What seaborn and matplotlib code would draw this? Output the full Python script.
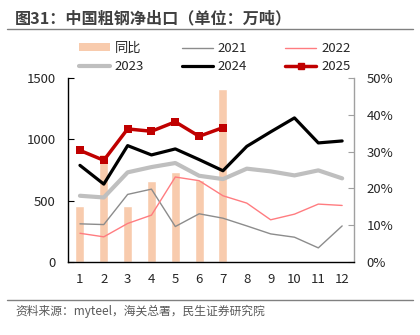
import matplotlib
matplotlib.use("Agg")
import matplotlib.pyplot as plt
import seaborn as sns
import pandas as pd
import numpy as np
from matplotlib.lines import Line2D
from matplotlib.patches import Patch

sns.set_style("white")
plt.rcParams['font.family'] = ['Noto Sans CJK SC', 'DejaVu Sans']

months = list(range(1, 13))
month_labels = [str(m) for m in months]
y2021 = [311, 305, 551, 594, 289, 393, 357, 294, 229, 202, 115, 294]
y2022 = [234, 205, 314, 382, 693, 663, 540, 480, 344, 390, 472, 461]
y2023 = [540, 526, 731, 774, 807, 703, 676, 761, 739, 706, 747, 682]
y2024 = [788, 635, 949, 873, 922, 835, 744, 943, 1061, 1175, 971, 987]
y2025 = [910, 829, 1085, 1066, 1143, 1025, 1096]
yoy_months = [1, 2, 3, 4, 5, 6, 7]
yoy = [15.3, 29.3, 15.1, 22.1, 24.4, 22.2, 47.1]

title = "图31：中国粗钢净出口（单位：万吨）"
source = "资料来源：myteel，海关总署，民生证券研究院"

fig = plt.figure(figsize=(4.2, 3.35), dpi=100)
ax = fig.add_axes([0.162, 0.218, 0.681, 0.549])
ax2 = ax.twinx()

bar_color = "#F8CBAD"
df_bar = pd.DataFrame({"m": yoy_months, "v": yoy})
sns.barplot(data=df_bar, x="m", y="v", ax=ax2, native_scale=True,
            color=bar_color, width=0.38, saturation=1)

ax.set_zorder(ax2.get_zorder() + 1)
ax.patch.set_visible(False)

styles = {
    "2021": dict(color="#8C8C8C", lw=1.0),
    "2022": dict(color="#FF7C80", lw=1.0),
    "2023": dict(color="#BFBFBF", lw=3.0),
    "2024": dict(color="#000000", lw=2.3),
}
series = {"2021": y2021, "2022": y2022, "2023": y2023, "2024": y2024}
for k, vals in series.items():
    sns.lineplot(x=months, y=vals, ax=ax, color=styles[k]["color"],
                 linewidth=styles[k]["lw"])
sns.lineplot(x=months[:len(y2025)], y=y2025, ax=ax, color="#C00000",
             linewidth=2.5, marker="s", markersize=5.5, markeredgewidth=0)

ax.set_xlim(0.5, 12.5)
ax.set_ylim(0, 1500)
ax2.set_ylim(0, 50)
ax.set_yticks([0, 500, 1000, 1500])
ax2.set_yticks([0, 10, 20, 30, 40, 50])
ax2.set_yticklabels([f"{v}%" for v in [0, 10, 20, 30, 40, 50]])
ax.set_xticks(months)
ax.set_xticklabels(month_labels)
ax.set_xticks(np.arange(0.5, 12.6, 1), minor=True)
ax.tick_params(axis="x", which="major", length=0, labelsize=9.5, pad=8)
ax.tick_params(axis="x", which="minor", length=4, direction="in", color="black")
ax.tick_params(axis="y", length=4, direction="in", labelsize=9.5, pad=9, color="black")
ax2.tick_params(axis="y", length=4, direction="in", labelsize=9.5, pad=9, color="#A0A0A0")
ax.set_xlabel("")
ax.set_ylabel("")
ax2.set_xlabel("")
ax2.set_ylabel("")

for a in (ax, ax2):
    a.spines["top"].set_visible(False)
ax.spines["left"].set_color("black")
ax.spines["bottom"].set_color("black")
ax.spines["right"].set_visible(False)
ax2.spines["left"].set_visible(False)
ax2.spines["bottom"].set_visible(False)
ax2.spines["right"].set_color("#A0A0A0")
for a in (ax, ax2):
    for s in a.spines.values():
        s.set_linewidth(1.0)

handles = [
    Patch(facecolor=bar_color, edgecolor="none", label="同比"),
    Line2D([], [], color="#BFBFBF", lw=3.0, label="2023"),
    Line2D([], [], color="#8C8C8C", lw=1.0, label="2021"),
    Line2D([], [], color="#000000", lw=2.3, label="2024"),
    Line2D([], [], color="#FF7C80", lw=1.0, label="2022"),
    Line2D([], [], color="#C00000", lw=2.5, marker="s", markersize=5, label="2025"),
]
fig.legend(handles=handles, ncol=3, loc="center", bbox_to_anchor=(0.511, 0.828),
           frameon=False, fontsize=9.5, handlelength=2.35, handleheight=0.55,
           columnspacing=2.9, labelspacing=0.4, handletextpad=0.35)

fig.text(0.036, 0.945, title, fontsize=11.6, fontweight="bold", color="#404040",
         va="center", ha="left")
fig.add_artist(Line2D([0.017, 0.983], [0.913, 0.913], color="#808080", lw=1.0,
                      transform=fig.transFigure))
fig.add_artist(Line2D([0.017, 0.983], [0.104, 0.104], color="#808080", lw=1.0,
                      transform=fig.transFigure))
fig.text(0.036, 0.07, source, fontsize=8.5, color="#595959", va="center", ha="left")

fig.savefig("out.png", dpi=100)
